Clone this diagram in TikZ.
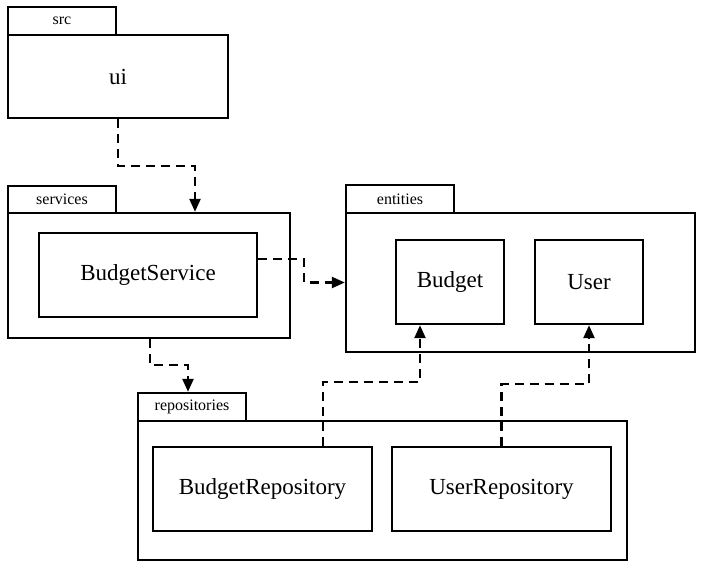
\documentclass[tikz,border=0pt]{standalone}
\usepackage{fontspec}
\setmainfont{Liberation Serif}
\usetikzlibrary{arrows.meta}
\tikzset{
  box/.style={draw, line width=2.4pt, fill=white, inner sep=0pt, font=\fontsize{23}{27}\selectfont},
  tabbox/.style={draw, line width=2.4pt, fill=white, inner sep=0pt, minimum width=108pt, minimum height=28pt, font=\fontsize{16}{19}\selectfont},
  dep/.style={line width=2.4pt, dash pattern=on 9pt off 6pt, -{Triangle[length=13pt,width=11pt]}},
}
\begin{document}
\begin{tikzpicture}[x=1pt,y=-1pt]
\useasboundingbox (0,0) rectangle (703,568);
\fill[white] (0,0) rectangle (703,568);
% src / ui
\node[tabbox] (srctab) at (62,21) {src};
\node[box, minimum width=220pt, minimum height=83pt] (uibox) at (118,76.5) {ui};
% services
\node[tabbox, minimum height=27pt] (servtab) at (62,199.5) {services};
\node[box, minimum width=282pt, minimum height=125pt] (servbox) at (149,275.5) {};
\node[box, minimum width=218pt, minimum height=84pt] (bsvc) at (148,275) {BudgetService};
% entities
\node[tabbox] (enttab) at (400,199) {entities};
\node[box, minimum width=349pt, minimum height=139pt] (entbox) at (520.5,282.5) {};
\node[box, minimum width=108pt, minimum height=84pt] (budget) at (450,282) {Budget};
\node[box, minimum width=108pt, minimum height=84pt] (user) at (589,282) {User};
% repositories
\node[tabbox] (repotab) at (192,407) {repositories};
\node[box, minimum width=489pt, minimum height=139pt] (repobox) at (382.5,490.5) {};
\node[box, minimum width=219pt, minimum height=84pt] (brepo) at (262.5,489) {BudgetRepository};
\node[box, minimum width=219pt, minimum height=84pt] (urepo) at (501.5,489) {UserRepository};
% dependencies
\draw[dep] (uibox.south) -- ++(0,47) -| ([xshift=46pt]servbox.north);
\draw[dep] ([yshift=16pt]bsvc.east) -- ++(46,0) |- (entbox.west);
\draw[dep] ([xshift=1pt]servbox.south) -- ++(0,26) -| ([xshift=-4pt]repotab.north);
\draw[dep] ([xshift=60.5pt]brepo.north) -- ++(0,-64) -| ([xshift=-30pt]budget.south);
\draw[dep] (urepo.north) -- ++(0,-62) -| (user.south);
\end{tikzpicture}
\end{document}
